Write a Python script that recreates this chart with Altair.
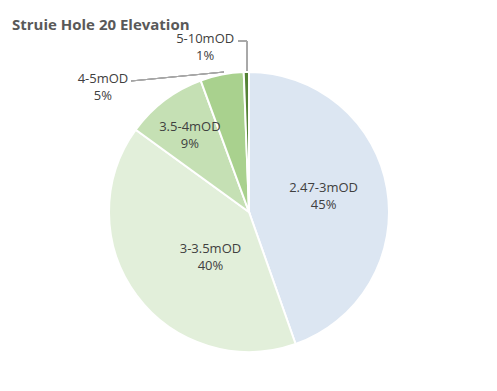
import math
import altair as alt
import pandas as pd

categories = ["2.47-3mOD", "3-3.5mOD", "3.5-4mOD", "4-5mOD", "5-10mOD"]
shares = [44.6, 40.4, 9.4, 5.0, 0.6]
colors = ["#dce6f2", "#e2efda", "#c5e0b4", "#a9d18e", "#548235"]

df = pd.DataFrame({
    "category": categories,
    "share": shares,
    "idx": list(range(len(categories))),
})
df["label"] = [f"{c}\n{round(v)}%" for c, v in zip(categories, shares)]

CX, CY = 241, 174
tscale = alt.Scale(domain=[0, 1], range=[0, 2 * math.pi])

base = (
    alt.Chart(df)
    .transform_window(cum="sum(share)", sort=[{"field": "idx"}], frame=[None, 0])
    .transform_joinaggregate(total="sum(share)")
    .transform_calculate(
        f0="(datum.cum - datum.share) / datum.total",
        f1="datum.cum / datum.total",
        fm="(datum.cum - datum.share / 2) / datum.total",
    )
)

arcs = base.mark_arc(outerRadius=140, stroke="white", strokeWidth=2).encode(
    theta=alt.Theta("f0:Q", scale=tscale),
    theta2="f1:Q",
    color=alt.Color("category:N", scale=alt.Scale(domain=categories, range=colors), legend=None),
    x=alt.value(CX),
    y=alt.value(CY),
)

# label placement: (radius, dx, dy) per slice
placement = {
    "2.47-3mOD": (98, -22, -7),
    "3-3.5mOD": (98, 40, -22),
    "3.5-4mOD": (98, 0, -7),
    "4-5mOD": (150, -117, 14),
    "5-10mOD": (150, -41, -23),
}

layers = [arcs]
for cat, (r, dx, dy) in placement.items():
    layers.append(
        base.transform_filter(alt.datum.category == cat)
        .mark_text(radius=r, dx=dx, dy=dy, fontSize=13, font="Open Sans",
                   color="#404040", lineBreak="\n", lineHeight=17, baseline="middle")
        .encode(
            theta=alt.Theta("fm:Q", scale=tscale),
            text="label:N",
            x=alt.value(CX),
            y=alt.value(CY),
        )
    )

leader_color = "#a6a6a6"
leaders = [
    alt.Chart(df).mark_rule(color=leader_color, strokeWidth=1).encode(
        x=alt.value(123), y=alt.value(43), x2=alt.value(216), y2=alt.value(34)),
    alt.Chart(df).mark_rule(color=leader_color, strokeWidth=1).encode(
        x=alt.value(230), y=alt.value(3), x2=alt.value(239), y2=alt.value(3)),
    alt.Chart(df).mark_rule(color=leader_color, strokeWidth=1).encode(
        x=alt.value(239), y=alt.value(3), x2=alt.value(239), y2=alt.value(34)),
]

chart = (
    alt.layer(*leaders, *layers)
    .properties(
        width=481,
        height=345,
        padding={"top": 30, "left": 0, "right": 0, "bottom": 0},
        autosize=alt.AutoSizeParams(type="none"),
        title=alt.TitleParams(
            "Struie Hole 20 Elevation",
            anchor="start",
            dx=4,
            dy=20,
            offset=8,
            baseline="alphabetic",
            font="Open Sans",
            fontSize=15,
            fontWeight="bold",
            color="#595959",
        ),
    )
    .configure_view(stroke=None)
)

chart.save("out.html", embed_options={"renderer": "svg", "actions": False})
